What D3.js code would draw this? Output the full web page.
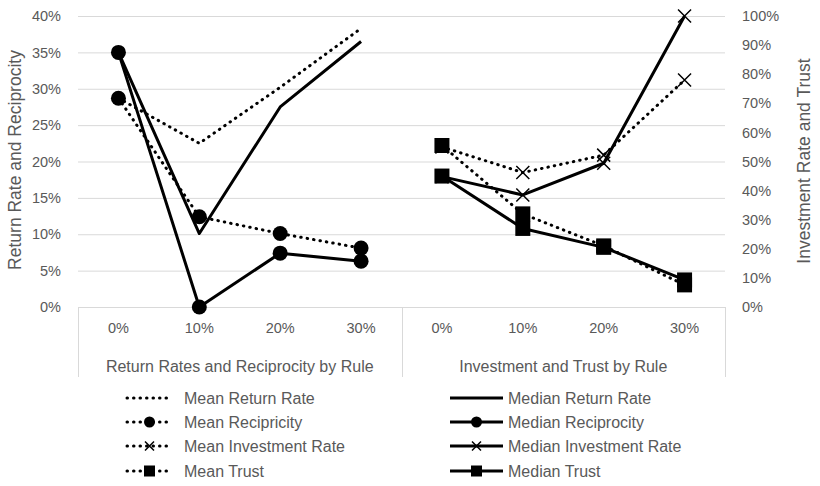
<!DOCTYPE html>
<html>
<head>
<meta charset="utf-8">
<script src="https://cdn.jsdelivr.net/npm/d3@7"></script>
<style>
  body { margin: 0; background: #fff; }
  svg { font-family: "Liberation Sans", Arial, sans-serif; }
  .tick text { fill: #595959; font-size: 14.5px; }
</style>
</head>
<body>
<div id="chart"></div>
<script>
// categories
const rules = ["0%", "10%", "20%", "30%"];
const groups = ["Return Rates and Reciprocity by Rule", "Investment and Trust by Rule"];

// left group, read against the left axis (fractions)
const meanReturnRate = [0.287, 0.225, 0.302, 0.383];
const medianReturnRate = [0.35, 0.101, 0.275, 0.365];
const meanReciprocity = [0.287, 0.124, 0.101, 0.081];
const medianReciprocity = [0.35, 0.0, 0.074, 0.063];

// right group, read against the right axis
const meanInvestment = [0.55, 0.462, 0.522, 0.78];
const medianInvestment = [0.448, 0.385, 0.494, 1.0];
const meanTrust = [0.555, 0.32, 0.21, 0.076];
const medianTrust = [0.45, 0.27, 0.205, 0.093];

const leftTicks = [0, 0.05, 0.1, 0.15, 0.2, 0.25, 0.3, 0.35, 0.4];
const rightTicks = [0, 0.1, 0.2, 0.3, 0.4, 0.5, 0.6, 0.7, 0.8, 0.9, 1.0];

const width = 820, height = 486;
const plotLeft = 78, plotRight = 725, plotTop = 16, plotBottom = 307;

const svg = d3.select("#chart").append("svg")
    .attr("width", width)
    .attr("height", height);

const keys = [];
groups.forEach((g, gi) => rules.forEach(r => keys.push(gi + "|" + r)));

const x = d3.scaleBand().domain(keys).range([plotLeft, plotRight]);
const cx = (gi, i) => x(gi + "|" + rules[i]) + x.bandwidth() / 2;

const yL = d3.scaleLinear().domain([0, 0.4]).range([plotBottom, plotTop]);
const yR = d3.scaleLinear().domain([0, 1]).range([plotBottom, plotTop]);

// gridlines
svg.append("g")
   .attr("transform", "translate(" + plotLeft + ",0)")
   .call(d3.axisLeft(yL).tickValues(leftTicks).tickSize(-(plotRight - plotLeft)).tickFormat(""))
   .call(g => g.select(".domain").remove())
   .call(g => g.selectAll("line").attr("stroke", "#d9d9d9").attr("stroke-width", 1));

// left axis labels
svg.append("g")
   .attr("transform", "translate(" + (plotLeft - 14) + ",0)")
   .call(d3.axisLeft(yL).tickValues(leftTicks).tickSize(0).tickFormat(d3.format(".0%")))
   .call(g => g.select(".domain").remove());

// right axis labels
svg.append("g")
   .attr("transform", "translate(" + (plotRight + 14) + ",0)")
   .call(d3.axisRight(yR).tickValues(rightTicks).tickSize(0).tickFormat(d3.format(".0%")))
   .call(g => g.select(".domain").remove());

// category axis: baseline and group dividers
const divs = [plotLeft, x("1|0%"), plotRight];
svg.append("line")
   .attr("x1", plotLeft).attr("x2", plotRight)
   .attr("y1", plotBottom + 0.5).attr("y2", plotBottom + 0.5)
   .attr("stroke", "#d9d9d9");
svg.selectAll(".divider")
   .data(divs)
   .enter().append("line")
   .attr("class", "divider")
   .attr("x1", d => Math.round(d) + 0.5).attr("x2", d => Math.round(d) + 0.5)
   .attr("y1", plotBottom).attr("y2", 377)
   .attr("stroke", "#d9d9d9");

svg.selectAll(".rule-label")
   .data(keys)
   .enter().append("text")
   .attr("class", "rule-label")
   .attr("x", d => x(d) + x.bandwidth() / 2)
   .attr("y", 333)
   .attr("text-anchor", "middle")
   .attr("fill", "#595959")
   .style("font-size", "14.5px")
   .text(d => d.split("|")[1]);

svg.selectAll(".group-label")
   .data(groups)
   .enter().append("text")
   .attr("class", "group-label")
   .attr("x", (d, i) => (divs[i] + divs[i + 1]) / 2)
   .attr("y", 372)
   .attr("text-anchor", "middle")
   .attr("fill", "#595959")
   .style("font-size", "16px")
   .text(d => d);

// axis titles
svg.append("text")
   .attr("transform", "translate(21,160) rotate(-90)")
   .attr("text-anchor", "middle")
   .attr("fill", "#595959")
   .style("font-size", "17.5px")
   .text("Return Rate and Reciprocity");

svg.append("text")
   .attr("transform", "translate(810,161) rotate(-90)")
   .attr("text-anchor", "middle")
   .attr("fill", "#595959")
   .style("font-size", "17.5px")
   .text("Investment Rate and Trust");

// markers
function drawMarker(g, type, size) {
    if (type === "circle") {
        g.append("circle").attr("r", size).attr("fill", "#000");
    } else if (type === "square") {
        g.append("rect").attr("x", -size).attr("y", -size)
         .attr("width", size * 2).attr("height", size * 2).attr("fill", "#000");
    } else if (type === "x") {
        g.append("path")
         .attr("d", "M" + -size + "," + -size + "L" + size + "," + size + "M" + -size + "," + size + "L" + size + "," + -size)
         .attr("stroke", "#000").attr("stroke-width", 1.5).attr("fill", "none");
    }
}

const dotted = "0.5,6";

const series = [
    { name: "Mean Return Rate", values: meanReturnRate, group: 0, dash: dotted, marker: null },
    { name: "Mean Recipricity", values: meanReciprocity, group: 0, dash: dotted, marker: "circle" },
    { name: "Mean Investment Rate", values: meanInvestment, group: 1, dash: dotted, marker: "x" },
    { name: "Mean Trust", values: meanTrust, group: 1, dash: dotted, marker: "square" },
    { name: "Median Return Rate", values: medianReturnRate, group: 0, dash: null, marker: null },
    { name: "Median Reciprocity", values: medianReciprocity, group: 0, dash: null, marker: "circle" },
    { name: "Median Investment Rate", values: medianInvestment, group: 1, dash: null, marker: "x" },
    { name: "Median Trust", values: medianTrust, group: 1, dash: null, marker: "square" }
];

const markerSize = { circle: 7.5, square: 7.5, x: 6.5 };

series.forEach(s => {
    const yy = s.group === 0 ? yL : yR;
    const line = d3.line()
        .x((d, i) => cx(s.group, i))
        .y(d => yy(d));
    svg.append("path")
       .datum(s.values)
       .attr("d", line)
       .attr("fill", "none")
       .attr("stroke", "#000")
       .attr("stroke-width", 3)
       .attr("stroke-linecap", s.dash ? "round" : "butt")
       .attr("stroke-linejoin", "round")
       .attr("stroke-dasharray", s.dash);
    if (s.marker) {
        s.values.forEach((v, i) => {
            const g = svg.append("g")
                .attr("transform", "translate(" + cx(s.group, i) + "," + yy(v) + ")");
            drawMarker(g, s.marker, markerSize[s.marker]);
        });
    }
});

// legend
const legendRows = [398, 422, 446, 471];
const legendCols = [
    { x1: 127, x2: 172, tx: 184 },
    { x1: 450, x2: 503, tx: 508 }
];
const legendMarker = { circle: 5.5, square: 5.5, x: 4.5 };

series.forEach((s, i) => {
    const col = legendCols[Math.floor(i / 4)];
    const ry = legendRows[i % 4];
    const g = svg.append("g").attr("class", "legend-item");
    g.append("line")
     .attr("x1", col.x1).attr("x2", col.x2)
     .attr("y1", ry).attr("y2", ry)
     .attr("stroke", "#000")
     .attr("stroke-width", 3)
     .attr("stroke-linecap", s.dash ? "round" : "butt")
     .attr("stroke-dasharray", s.dash);
    if (s.marker) {
        const m = g.append("g").attr("transform", "translate(" + ((col.x1 + col.x2) / 2) + "," + ry + ")");
        drawMarker(m, s.marker, legendMarker[s.marker]);
    }
    g.append("text")
     .attr("x", col.tx)
     .attr("y", ry + 6)
     .attr("fill", "#595959")
     .style("font-size", "16px")
     .text(s.name);
});
</script>
</body>
</html>
